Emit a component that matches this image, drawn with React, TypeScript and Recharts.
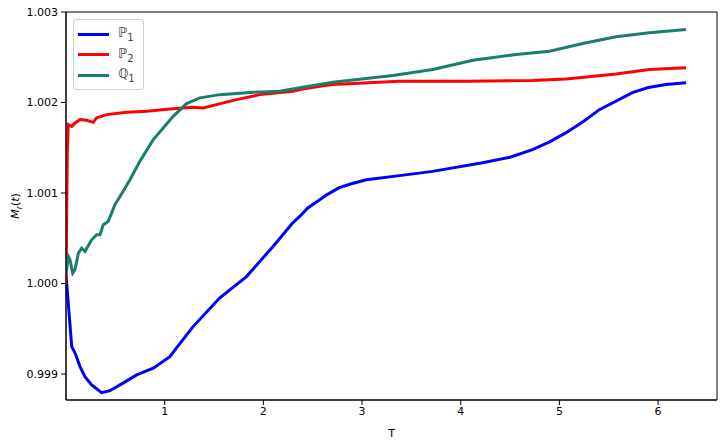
import { LineChart, Line, XAxis, YAxis, Legend, ReferenceArea } from 'recharts';

// sampled by eye from the reference plot
const P1_T = [0, 0.007, 0.058, 0.091, 0.142, 0.192, 0.26, 0.361, 0.445, 0.547, 0.716, 0.884, 1.053, 1.12, 1.288, 1.559, 1.829, 2.098, 2.298, 2.368, 2.45, 2.571, 2.65, 2.77, 2.9, 3.043, 3.4, 3.715, 4.221, 4.5, 4.727, 4.9, 5.068, 5.25, 5.405, 5.739, 5.9, 6.08, 6.283];
const P1_V = [1.0001, 1.0, 0.999303, 0.999234, 0.999082, 0.998971, 0.99888, 0.998794, 0.998816, 0.99888, 0.99899, 0.999064, 0.999192, 0.999289, 0.999524, 0.999842, 1.000077, 1.000409, 1.000671, 1.000741, 1.000835, 1.000925, 1.000985, 1.00106, 1.001105, 1.001147, 1.001195, 1.001239, 1.001335, 1.001395, 1.001479, 1.001565, 1.001667, 1.001795, 1.001921, 1.00211, 1.002165, 1.002198, 1.002217];

const P2_T = [0, 0.013, 0.023, 0.058, 0.091, 0.142, 0.209, 0.276, 0.31, 0.412, 0.614, 0.817, 1.053, 1.288, 1.39, 1.525, 1.727, 1.964, 2.301, 2.368, 2.571, 2.702, 3.381, 4.056, 4.727, 5.068, 5.574, 5.911, 6.283];
const P2_V = [1.0, 1.00145, 1.001756, 1.001737, 1.001774, 1.001811, 1.001803, 1.001781, 1.00183, 1.001866, 1.001892, 1.001903, 1.001929, 1.001947, 1.00194, 1.001977, 1.002032, 1.002087, 1.002124, 1.002143, 1.002179, 1.002198, 1.002235, 1.002235, 1.002242, 1.002261, 1.002316, 1.002364, 1.002383];

const Q1_T = [0, 0.023, 0.04, 0.068, 0.091, 0.125, 0.159, 0.192, 0.26, 0.311, 0.344, 0.378, 0.428, 0.496, 0.547, 0.648, 0.749, 0.884, 0.985, 1.086, 1.222, 1.356, 1.559, 1.896, 2.166, 2.368, 2.571, 2.702, 3.313, 3.718, 4.123, 4.562, 4.899, 5.236, 5.574, 5.911, 6.283];
const Q1_V = [1.0001, 1.000299, 1.000262, 1.000115, 1.000152, 1.000336, 1.000392, 1.000354, 1.000483, 1.000539, 1.000539, 1.00065, 1.000686, 1.000871, 1.000962, 1.001147, 1.00135, 1.00159, 1.001719, 1.001847, 1.001988, 1.002051, 1.002087, 1.002113, 1.002124, 1.002162, 1.002198, 1.002223, 1.002298, 1.002364, 1.002467, 1.00253, 1.002566, 1.002652, 1.002726, 1.00277, 1.002806];

const X_TICKS = [1, 2, 3, 4, 5, 6];
const Y_TICKS = [0.999, 1.0, 1.001, 1.002, 1.003];

const X_DOMAIN = [0, 6.597];
const Y_DOMAIN = [0.998713, 1.003];

const SERIES = [
  { key: 'p1', letter: 'ℙ', sub: '1', color: '#0000ff' },
  { key: 'p2', letter: 'ℙ', sub: '2', color: '#ff0000' },
  { key: 'q1', letter: 'ℚ', sub: '1', color: '#1b7d6d' },
];

const toRows = (ts: number[], vs: number[]) => ts.map((t, i) => ({ t, v: vs[i] }));

const p1Data = toRows(P1_T, P1_V);
const p2Data = toRows(P2_T, P2_V);
const q1Data = toRows(Q1_T, Q1_V);

const FONT = '"DejaVu Sans", sans-serif';
const tickStyle = { fontSize: 11, fill: '#000', fontFamily: FONT };

function LegendBox() {
  return (
    <div
      style={{
        border: '1px solid #d0d0d0',
        borderRadius: 3,
        background: 'rgba(255,255,255,0.8)',
        padding: '4px 8px 3px 4px',
        fontFamily: FONT,
        fontSize: 13,
        color: '#444',
      }}
    >
      {SERIES.map((s) => (
        <div key={s.key} style={{ display: 'flex', alignItems: 'center', height: 20.5 }}>
          <span style={{ display: 'inline-block', width: 31, height: 3, background: s.color, marginRight: 9 }} />
          <span>
            {s.letter}
            <sub style={{ fontSize: 10 }}>{s.sub}</sub>
          </span>
        </div>
      ))}
    </div>
  );
}

function YLabel() {
  return (
    <text transform="rotate(-90, 16, 206)" x={16} y={206} textAnchor="middle" dominantBaseline="middle" fontFamily={FONT} fontSize={11}>
      <tspan fontStyle="italic">M</tspan>
      <tspan fontStyle="italic" fontSize={8} dy={3}>r</tspan>
      <tspan dy={-3}>(</tspan>
      <tspan fontStyle="italic">t</tspan>
      <tspan>)</tspan>
    </text>
  );
}

export default function App() {
  return (
    <div style={{ position: 'absolute', left: 0, top: 0, background: '#fff' }}>
      <LineChart width={726} height={445} margin={{ top: 12, right: 9, bottom: 0, left: 0 }}>
        <XAxis
          dataKey="t"
          type="number"
          domain={X_DOMAIN}
          ticks={X_TICKS}
          allowDataOverflow
          stroke="#000"
          tick={tickStyle}
          tickSize={5}
          tickMargin={2}
          height={45}
          label={{ value: 'T', position: 'insideBottom', offset: 8, style: { fontSize: 11, fill: '#000', fontFamily: FONT } }}
        />
        <YAxis
          yAxisId="left"
          type="number"
          domain={Y_DOMAIN}
          ticks={Y_TICKS}
          allowDataOverflow
          stroke="#000"
          tick={tickStyle}
          tickSize={5}
          tickMargin={3}
          width={66}
          tickFormatter={(v: number) => v.toFixed(3)}
          label={<YLabel />}
        />
        {/* plot frame like matplotlib spines */}
        <ReferenceArea
          yAxisId="left"
          x1={X_DOMAIN[0]}
          x2={X_DOMAIN[1]}
          y1={Y_DOMAIN[0]}
          y2={Y_DOMAIN[1]}
          fill="none"
          stroke="#000"
          strokeWidth={1}
          ifOverflow="visible"
        />
        <Legend
          layout="horizontal"
          verticalAlign="middle"
          align="center"
          content={<LegendBox />}
          wrapperStyle={{ left: 73, top: 19, width: 'auto', height: 'auto' }}
        />
        <Line yAxisId="left" data={p1Data} dataKey="v" name="P1" type="linear" stroke="#0000ff" strokeWidth={3} dot={false} isAnimationActive={false} />
        <Line yAxisId="left" data={p2Data} dataKey="v" name="P2" type="linear" stroke="#ff0000" strokeWidth={3} dot={false} isAnimationActive={false} />
        <Line yAxisId="left" data={q1Data} dataKey="v" name="Q1" type="linear" stroke="#1b7d6d" strokeWidth={3} dot={false} isAnimationActive={false} />
      </LineChart>
    </div>
  );
}
